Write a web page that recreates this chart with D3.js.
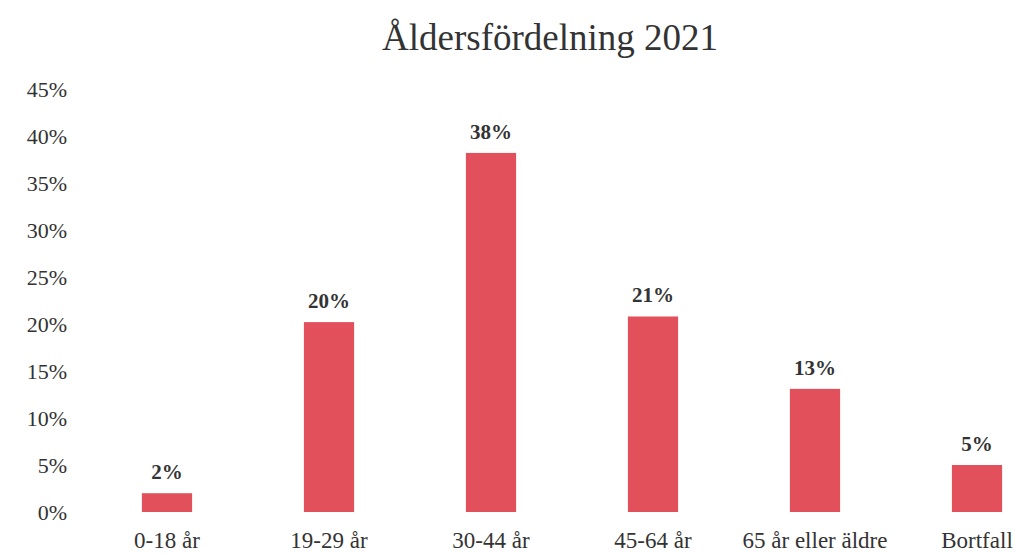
<!DOCTYPE html>
<html>
<head>
<meta charset="utf-8">
<script src="https://cdn.jsdelivr.net/npm/d3@7"></script>
<style>
  body { margin: 0; background: #fff; }
  text { font-family: "Liberation Serif", "DejaVu Serif", serif; fill: #333; }
</style>
</head>
<body>
<div id="chart"></div>
<script>
// data
var categories = ["0-18 år", "19-29 år", "30-44 år", "45-64 år", "65 år eller äldre", "Bortfall"];
var values = [2.0, 20.2, 38.2, 20.8, 13.1, 5.0];
var valueLabels = ["2%", "20%", "38%", "21%", "13%", "5%"];
var yTicks = [0, 5, 10, 15, 20, 25, 30, 35, 40, 45];

var w = 1027, h = 555;

var svg = d3.select("#chart").append("svg")
    .attr("width", w)
    .attr("height", h);

var x = d3.scaleBand()
    .domain(categories)
    .range([86, 1058])
    .paddingInner(0.69)
    .paddingOuter(0.345);

var y = d3.scaleLinear()
    .domain([0, 45])
    .range([512, 89]);

// title
svg.append("text")
    .attr("x", 550)
    .attr("y", 50)
    .attr("text-anchor", "middle")
    .style("font-size", "37px")
    .text("Åldersfördelning 2021");

// y axis labels, no line
var yAxis = d3.axisLeft(y)
    .tickValues(yTicks)
    .tickSize(0)
    .tickPadding(0)
    .tickFormat(function(d) { return d + "%"; });

var gy = svg.append("g")
    .attr("transform", "translate(67,0)")
    .call(yAxis);
gy.select(".domain").remove();
gy.selectAll("text")
    .style("font-size", "22px")
    .style("font-family", "'Liberation Serif', serif")
    .attr("fill", "#333");

// x axis labels
var xAxis = d3.axisBottom(x).tickSize(0).tickPadding(0);
var gx = svg.append("g")
    .attr("transform", "translate(0,532)")
    .call(xAxis);
gx.select(".domain").remove();
gx.selectAll("text")
    .style("font-size", "23px")
    .style("font-family", "'Liberation Serif', serif")
    .attr("fill", "#333");

// bars
svg.selectAll("rect.bar")
    .data(values)
    .enter().append("rect")
    .attr("class", "bar")
    .attr("x", function(d, i) { return x(categories[i]); })
    .attr("y", function(d) { return y(d); })
    .attr("width", x.bandwidth())
    .attr("height", function(d) { return y(0) - y(d); })
    .attr("fill", "#e2515b");

// value labels
svg.selectAll("text.val")
    .data(values)
    .enter().append("text")
    .attr("class", "val")
    .attr("x", function(d, i) { return x(categories[i]) + x.bandwidth() / 2; })
    .attr("y", function(d) { return y(d) - 14; })
    .attr("text-anchor", "middle")
    .style("font-size", "21px")
    .style("font-weight", "bold")
    .text(function(d, i) { return valueLabels[i]; });
</script>
</body>
</html>
